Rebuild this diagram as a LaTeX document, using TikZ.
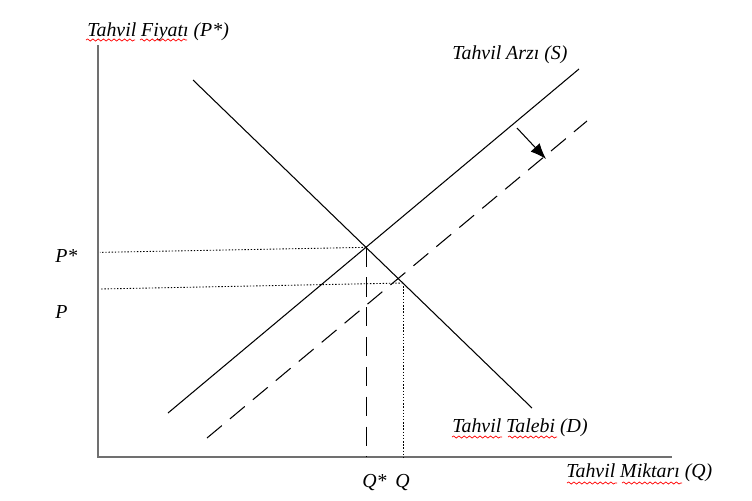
\documentclass[tikz,border=0pt]{standalone}
\usepackage{fontspec}
\setmainfont{Liberation Serif}
\usetikzlibrary{calc, arrows.meta, decorations.pathmorphing}

\begin{document}
\begin{tikzpicture}[x=0.02cm, y=-0.02cm,
    label/.style={font=\itshape\fontsize{11.3}{13}\selectfont, inner sep=0pt},
    curve/.style={line width=0.6pt},
    guide/.style={line width=0.5pt, dash pattern=on 0.8pt off 1pt},
    shifted/.style={line width=0.6pt, dash pattern=on 11pt off 6pt},
    spell/.style={red, line width=0.4pt, decorate, decoration={snake, amplitude=0.6pt, segment length=3pt}}]
    \useasboundingbox (0,0) rectangle (752,501);

    \definecolor{axisColour}{HTML}{707070}

    % Define the axes corners
    \coordinate (O) at (98,457);
    \coordinate (yTop) at (98,45);
    \coordinate (xEnd) at (672,457);

    % Draw axes
    \draw[axisColour, line width=0.9pt] (yTop) -- (O) -- (xEnd);

    % Define the end points of supply, demand and shifted supply
    \coordinate (S1) at (168,413);
    \coordinate (S2) at (579,69);
    \coordinate (D1) at (193,80);
    \coordinate (D2) at (532,408);
    \coordinate (T1) at (207,438);
    \coordinate (T2) at (587,121);

    % Draw the curves
    \draw[curve] (S1) -- (S2);
    \draw[curve] (D1) -- (D2);
    \draw[shifted] (T1) -- (T2);

    % Equilibrium points
    \coordinate (E) at (intersection of S1--S2 and D1--D2);
    \coordinate (F) at (403,283);
    \coordinate (PE) at ($(E -| O)+(2,5)$);
    \coordinate (PF) at ($(F -| O)+(2,6)$);

    % Guide lines to the axes
    \draw[guide] (E) -- (PE);
    \draw[guide] (F) -- (PF);
    \draw[shifted, line width=0.5pt] (E) -- (E |- O);
    \draw[guide] (F) -- (F |- O);

    % Shift arrow
    \coordinate (A1) at (517,128);
    \coordinate (A2) at (546,159);
    \draw[line width=0.6pt, -{Latex[length=9pt, width=7pt]}] (A1) -- (A2);

    % Labels
    \node[label, anchor=base west] (yLabel) at (87,36) {Tahvil Fiyatı (P*)};
    \node[label, anchor=base west] (sLabel) at (452,59) {Tahvil Arzı (S)};
    \node[label, anchor=base west] (dLabel) at (452,432) {Tahvil Talebi (D)};
    \node[label, anchor=base west] (xLabel) at (566,477) {Tahvil Miktarı (Q)};
    \node[label, anchor=base west] (pStar) at (55,262) {P*};
    \node[label, anchor=base west] (pLabel) at (55,318) {P};
    \node[label, anchor=base west] (qStar) at (362,487) {Q*};
    \node[label, anchor=base west] (qLabel) at (395,487) {Q};

    % Spell check marks
    \draw[spell] (86,40) -- (135,40);
    \draw[spell] (140,40) -- (187,40);
    \draw[spell] (452,437) -- (502,437);
    \draw[spell] (508,437) -- (557,437);
    \draw[spell] (567,483) -- (617,483);
    \draw[spell] (622,483) -- (682,483);

\end{tikzpicture}
\end{document}
